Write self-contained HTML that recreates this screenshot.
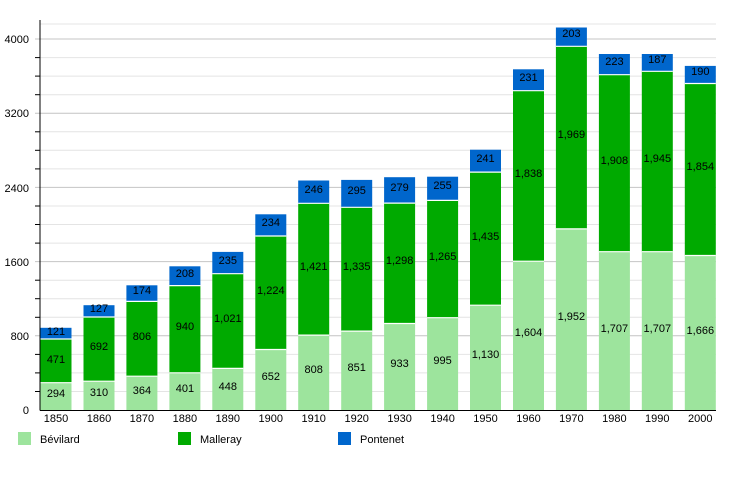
<!DOCTYPE html>
<html><head><meta charset="utf-8"><style>
body{margin:0;background:#fff}
svg{display:block;font-family:"Liberation Sans",sans-serif}
.l{font-size:11px;text-anchor:middle;dominant-baseline:central;fill:#000}
</style></head><body>
<svg width="750" height="500" viewBox="0 0 750 500" xmlns="http://www.w3.org/2000/svg">
<g stroke="#e4e4e4" stroke-width="1">
<line x1="40" x2="716" y1="391.5" y2="391.5"/><line x1="40" x2="716" y1="372.9" y2="372.9"/><line x1="40" x2="716" y1="354.4" y2="354.4"/>
<line x1="40" x2="716" y1="317.3" y2="317.3"/><line x1="40" x2="716" y1="298.7" y2="298.7"/><line x1="40" x2="716" y1="280.2" y2="280.2"/>
<line x1="40" x2="716" y1="243.1" y2="243.1"/><line x1="40" x2="716" y1="224.5" y2="224.5"/><line x1="40" x2="716" y1="206.0" y2="206.0"/>
<line x1="40" x2="716" y1="168.9" y2="168.9"/><line x1="40" x2="716" y1="150.3" y2="150.3"/><line x1="40" x2="716" y1="131.8" y2="131.8"/>
<line x1="40" x2="716" y1="94.7" y2="94.7"/><line x1="40" x2="716" y1="76.1" y2="76.1"/><line x1="40" x2="716" y1="57.6" y2="57.6"/>
<line x1="40" x2="716" y1="24" y2="24"/>
</g>
<g stroke="#c4c4c4" stroke-width="1">
<line x1="35" x2="716" y1="335.8" y2="335.8"/><line x1="35" x2="716" y1="261.6" y2="261.6"/><line x1="35" x2="716" y1="187.4" y2="187.4"/><line x1="35" x2="716" y1="113.2" y2="113.2"/><line x1="35" x2="716" y1="39" y2="39"/>
</g>
<g font-size="11" text-anchor="end" fill="#000">
<text x="29" y="414">0</text><text x="29" y="340">800</text><text x="29" y="266">1600</text><text x="29" y="192">2400</text><text x="29" y="117">3200</text><text x="29" y="43">4000</text>
</g>
<g id="bars">
<!-- bars: x = center-15.5 -->
<g fill="#9de49d">
<rect x="40.5" y="382.7" width="31" height="27.3"/><rect x="83.5" y="381.2" width="31" height="28.8"/><rect x="126.4" y="376.2" width="31" height="33.8"/><rect x="169.4" y="372.8" width="31" height="37.2"/><rect x="212.3" y="368.4" width="31" height="41.6"/><rect x="255.3" y="349.5" width="31" height="60.5"/><rect x="298.2" y="335.1" width="31" height="74.9"/><rect x="341.2" y="331.1" width="31" height="78.9"/><rect x="384.1" y="323.5" width="31" height="86.5"/><rect x="427.1" y="317.7" width="31" height="92.3"/><rect x="470" y="305.2" width="31" height="104.8"/><rect x="513" y="261.2" width="31" height="148.8"/><rect x="555.9" y="228.9" width="31" height="181.1"/><rect x="598.9" y="251.7" width="31" height="158.3"/><rect x="641.8" y="251.7" width="31" height="158.3"/><rect x="684.8" y="255.5" width="31" height="154.5"/>
</g>
<g fill="#00aa00">
<rect x="40.5" y="339" width="31" height="43.7"/><rect x="83.5" y="317" width="31" height="64.2"/><rect x="126.4" y="301.4" width="31" height="74.8"/><rect x="169.4" y="285.6" width="31" height="87.2"/><rect x="212.3" y="273.7" width="31" height="94.7"/><rect x="255.3" y="236" width="31" height="113.5"/><rect x="298.2" y="203.3" width="31" height="131.8"/><rect x="341.2" y="207.3" width="31" height="123.8"/><rect x="384.1" y="203.1" width="31" height="120.4"/><rect x="427.1" y="200.4" width="31" height="117.3"/><rect x="470" y="172.1" width="31" height="133.1"/><rect x="513" y="90.7" width="31" height="170.5"/><rect x="555.9" y="46.3" width="31" height="182.6"/><rect x="598.9" y="74.7" width="31" height="177"/><rect x="641.8" y="71.3" width="31" height="180.4"/><rect x="684.8" y="83.5" width="31" height="172"/>
</g>
<g fill="#0066cc">
<rect x="40.5" y="327.8" width="31" height="11.2"/><rect x="83.5" y="305.2" width="31" height="11.8"/><rect x="126.4" y="285.3" width="31" height="16.1"/><rect x="169.4" y="266.3" width="31" height="19.3"/><rect x="212.3" y="251.9" width="31" height="21.8"/><rect x="255.3" y="214.3" width="31" height="21.7"/><rect x="298.2" y="180.5" width="31" height="22.8"/><rect x="341.2" y="179.9" width="31" height="27.4"/><rect x="384.1" y="177.2" width="31" height="25.9"/><rect x="427.1" y="176.7" width="31" height="23.7"/><rect x="470" y="149.7" width="31" height="22.4"/><rect x="513" y="69.3" width="31" height="21.4"/><rect x="555.9" y="27.5" width="31" height="18.8"/><rect x="598.9" y="54" width="31" height="20.7"/><rect x="641.8" y="54" width="31" height="17.3"/><rect x="684.8" y="65.9" width="31" height="17.6"/>
</g>
<g stroke="#fff" stroke-width="1.2">
<line x1="40.5" x2="71.5" y1="382.7" y2="382.7"/><line x1="40.5" x2="71.5" y1="339" y2="339"/>
<line x1="83.5" x2="114.5" y1="381.2" y2="381.2"/><line x1="83.5" x2="114.5" y1="317" y2="317"/>
<line x1="126.4" x2="157.4" y1="376.2" y2="376.2"/><line x1="126.4" x2="157.4" y1="301.4" y2="301.4"/>
<line x1="169.4" x2="200.4" y1="372.8" y2="372.8"/><line x1="169.4" x2="200.4" y1="285.6" y2="285.6"/>
<line x1="212.3" x2="243.3" y1="368.4" y2="368.4"/><line x1="212.3" x2="243.3" y1="273.7" y2="273.7"/>
<line x1="255.3" x2="286.3" y1="349.5" y2="349.5"/><line x1="255.3" x2="286.3" y1="236" y2="236"/>
<line x1="298.2" x2="329.2" y1="335.1" y2="335.1"/><line x1="298.2" x2="329.2" y1="203.3" y2="203.3"/>
<line x1="341.2" x2="372.2" y1="331.1" y2="331.1"/><line x1="341.2" x2="372.2" y1="207.3" y2="207.3"/>
<line x1="384.1" x2="415.1" y1="323.5" y2="323.5"/><line x1="384.1" x2="415.1" y1="203.1" y2="203.1"/>
<line x1="427.1" x2="458.1" y1="317.7" y2="317.7"/><line x1="427.1" x2="458.1" y1="200.4" y2="200.4"/>
<line x1="470" x2="501" y1="305.2" y2="305.2"/><line x1="470" x2="501" y1="172.1" y2="172.1"/>
<line x1="513" x2="544" y1="261.2" y2="261.2"/><line x1="513" x2="544" y1="90.7" y2="90.7"/>
<line x1="555.9" x2="586.9" y1="228.9" y2="228.9"/><line x1="555.9" x2="586.9" y1="46.3" y2="46.3"/>
<line x1="598.9" x2="629.9" y1="251.7" y2="251.7"/><line x1="598.9" x2="629.9" y1="74.7" y2="74.7"/>
<line x1="641.8" x2="672.8" y1="251.7" y2="251.7"/><line x1="641.8" x2="672.8" y1="71.3" y2="71.3"/>
<line x1="684.8" x2="715.8" y1="255.5" y2="255.5"/><line x1="684.8" x2="715.8" y1="83.5" y2="83.5"/>
</g>
</g>
<g class="lb">
<text class="l" x="56" y="394">294</text><text class="l" x="56" y="360">471</text><text class="l" x="56" y="332">121</text>
<text class="l" x="99" y="393">310</text><text class="l" x="99" y="347">692</text><text class="l" x="99" y="309">127</text>
<text class="l" x="141.9" y="391">364</text><text class="l" x="141.9" y="337">806</text><text class="l" x="141.9" y="291">174</text>
<text class="l" x="184.9" y="389">401</text><text class="l" x="184.9" y="327">940</text><text class="l" x="184.9" y="274">208</text>
<text class="l" x="227.8" y="387">448</text><text class="l" x="227.8" y="319">1,021</text><text class="l" x="227.8" y="261">235</text>
<text class="l" x="270.8" y="377">652</text><text class="l" x="270.8" y="291">1,224</text><text class="l" x="270.8" y="223">234</text>
<text class="l" x="313.7" y="370">808</text><text class="l" x="313.7" y="267">1,421</text><text class="l" x="313.7" y="190">246</text>
<text class="l" x="356.7" y="368">851</text><text class="l" x="356.7" y="267">1,335</text><text class="l" x="356.7" y="191">295</text>
<text class="l" x="399.6" y="364">933</text><text class="l" x="399.6" y="261">1,298</text><text class="l" x="399.6" y="188">279</text>
<text class="l" x="442.6" y="361">995</text><text class="l" x="442.6" y="257">1,265</text><text class="l" x="442.6" y="186">255</text>
<text class="l" x="485.5" y="355">1,130</text><text class="l" x="485.5" y="237">1,435</text><text class="l" x="485.5" y="159">241</text>
<text class="l" x="528.5" y="333">1,604</text><text class="l" x="528.5" y="174">1,838</text><text class="l" x="528.5" y="78">231</text>
<text class="l" x="571.4" y="317">1,952</text><text class="l" x="571.4" y="135">1,969</text><text class="l" x="571.4" y="34">203</text>
<text class="l" x="614.4" y="329">1,707</text><text class="l" x="614.4" y="161">1,908</text><text class="l" x="614.4" y="62">223</text>
<text class="l" x="657.3" y="329">1,707</text><text class="l" x="657.3" y="159">1,945</text><text class="l" x="657.3" y="60">187</text>
<text class="l" x="700.3" y="331">1,666</text><text class="l" x="700.3" y="167">1,854</text><text class="l" x="700.3" y="72">190</text>
</g>
<g stroke="#000" stroke-width="1">
<line x1="40" x2="40" y1="20" y2="410.5"/><line x1="40" x2="716" y1="410.5" y2="410.5"/>
<line x1="35" x2="40" y1="391.5" y2="391.5"/><line x1="35" x2="40" y1="372.9" y2="372.9"/><line x1="35" x2="40" y1="354.4" y2="354.4"/><line x1="35" x2="40" y1="317.3" y2="317.3"/><line x1="35" x2="40" y1="298.7" y2="298.7"/><line x1="35" x2="40" y1="280.2" y2="280.2"/><line x1="35" x2="40" y1="243.1" y2="243.1"/><line x1="35" x2="40" y1="224.5" y2="224.5"/><line x1="35" x2="40" y1="206" y2="206"/><line x1="35" x2="40" y1="168.9" y2="168.9"/><line x1="35" x2="40" y1="150.3" y2="150.3"/><line x1="35" x2="40" y1="131.8" y2="131.8"/><line x1="35" x2="40" y1="94.7" y2="94.7"/><line x1="35" x2="40" y1="76.1" y2="76.1"/><line x1="35" x2="40" y1="57.6" y2="57.6"/>
</g>
<g font-size="11" text-anchor="middle" fill="#000">
<text x="56" y="422">1850</text><text x="99" y="422">1860</text><text x="141.9" y="422">1870</text><text x="184.9" y="422">1880</text><text x="227.8" y="422">1890</text><text x="270.8" y="422">1900</text><text x="313.7" y="422">1910</text><text x="356.7" y="422">1920</text><text x="399.6" y="422">1930</text><text x="442.6" y="422">1940</text><text x="485.5" y="422">1950</text><text x="528.5" y="422">1960</text><text x="571.4" y="422">1970</text><text x="614.4" y="422">1980</text><text x="657.3" y="422">1990</text><text x="700.3" y="422">2000</text>
</g>
<rect x="18" y="432" width="13" height="13" fill="#9de49d"/><text x="40" y="443" font-size="11">Bévilard</text>
<rect x="178" y="432" width="13" height="13" fill="#00aa00"/><text x="200" y="443" font-size="11">Malleray</text>
<rect x="338" y="432" width="13" height="13" fill="#0066cc"/><text x="360" y="443" font-size="11">Pontenet</text>
</svg>
</body></html>
